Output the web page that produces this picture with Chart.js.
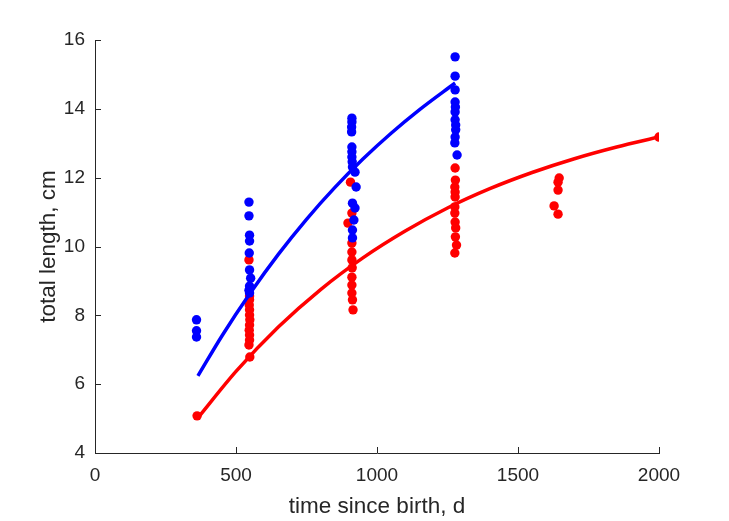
<!DOCTYPE html>
<html>
<head>
<meta charset="utf-8">
<script src="https://cdn.jsdelivr.net/npm/chart.js@4.4.0/dist/chart.umd.min.js"></script>
<style>
  html, body { margin: 0; padding: 0; background: #fff; }
  #growth { display: block; }
</style>
</head>
<body>
<canvas id="growth" width="729" height="521"></canvas>
<script>
// measured points, blue group
const blueX = [360, 360, 360,
  546, 546, 548, 548, 547, 548, 552, 548, 546, 548,
  911, 911, 910, 910, 911, 911, 911, 912, 913, 922, 926, 913, 922, 918, 913, 913,
  1277, 1277, 1277, 1277, 1278, 1277, 1277, 1279, 1279, 1277, 1276, 1284];
const blueY = [7.87, 7.55, 7.37,
  11.29, 10.89, 10.33, 10.16, 9.81, 9.32, 9.08, 8.85, 8.73, 8.65,
  13.73, 13.62, 13.47, 13.33, 12.89, 12.75, 12.60, 12.46, 12.31, 12.16, 11.73, 11.26, 11.12, 10.77, 10.48, 10.25,
  15.51, 14.95, 14.55, 14.20, 14.05, 13.91, 13.68, 13.53, 13.39, 13.18, 13.01, 12.66];

// measured points, red group
const redX = [362,
  546, 548, 548, 547, 548, 548, 549, 548, 547, 548, 548, 546, 549,
  906, 911, 897, 911, 911, 911, 912, 911, 911, 911, 913, 915,
  1277, 1278, 1276, 1277, 1277, 1276, 1276, 1277, 1279, 1278, 1282, 1276,
  1646, 1642, 1642, 1628, 1642,
  2000];
const redY = [5.08,
  9.61, 8.56, 8.45, 8.30, 8.16, 8.01, 7.87, 7.72, 7.57, 7.43, 7.28, 7.14, 6.79,
  11.87, 10.97, 10.68, 10.10, 9.84, 9.61, 9.38, 9.11, 8.88, 8.65, 8.45, 8.16,
  12.28, 11.93, 11.73, 11.58, 11.44, 11.15, 10.97, 10.71, 10.54, 10.28, 10.04, 9.81,
  11.99, 11.87, 11.64, 11.18, 10.94,
  13.18];

// fitted curves
const blueFitX = [365, 450, 550, 650, 750, 850, 950, 1050, 1150, 1277];
const blueFitY = [6.24, 7.40, 8.64, 9.77, 10.79, 11.71, 12.54, 13.29, 13.97, 14.75];
const redFitX = [365, 500, 650, 800, 950, 1100, 1250, 1400, 1550, 1700, 1850, 2000];
const redFitY = [5.02, 6.37, 7.66, 8.75, 9.67, 10.45, 11.12, 11.68, 12.15, 12.55, 12.89, 13.18];

const xTicks = [0, 500, 1000, 1500, 2000];
const yTicks = [4, 6, 8, 10, 12, 14, 16];

const BLUE = '#0000ff';
const RED = '#ff0000';
const INK = '#262626';
const FONT = 'Liberation Sans, Arial, Helvetica, sans-serif';

function pts(xs, ys) {
  return xs.map((x, i) => ({ x: x, y: ys[i] }));
}

// matlab style ticks pointing into the plot
const inwardTicks = {
  id: 'inwardTicks',
  afterDraw(chart) {
    const { ctx, chartArea } = chart;
    const xs = chart.scales.x, ys = chart.scales.y;
    ctx.save();
    ctx.strokeStyle = INK;
    ctx.lineWidth = 1;
    ctx.beginPath();
    xTicks.forEach(v => {
      const px = Math.round(xs.getPixelForValue(v)) + 0.5;
      ctx.moveTo(px, chartArea.bottom);
      ctx.lineTo(px, chartArea.bottom - 6);
    });
    yTicks.forEach(v => {
      const py = Math.round(ys.getPixelForValue(v)) + 0.5;
      ctx.moveTo(chartArea.left, py);
      ctx.lineTo(chartArea.left + 6, py);
    });
    ctx.stroke();
    ctx.restore();
  }
};

const ctx = document.getElementById('growth');

new Chart(ctx, {
  type: 'scatter',
  data: {
    datasets: [
      {
        label: 'blue fit',
        data: pts(blueFitX, blueFitY),
        showLine: true,
        borderColor: BLUE,
        borderWidth: 3.5,
        pointRadius: 0,
        cubicInterpolationMode: 'monotone'
      },
      {
        label: 'red fit',
        data: pts(redFitX, redFitY),
        showLine: true,
        borderColor: RED,
        borderWidth: 3.5,
        pointRadius: 0,
        cubicInterpolationMode: 'monotone'
      },
      {
        label: 'blue',
        data: pts(blueX, blueY),
        backgroundColor: BLUE,
        borderColor: BLUE,
        borderWidth: 0,
        pointRadius: 4.7
      },
      {
        label: 'red',
        data: pts(redX, redY),
        backgroundColor: RED,
        borderColor: RED,
        borderWidth: 0,
        pointRadius: 4.7
      }
    ]
  },
  options: {
    responsive: false,
    animation: false,
    layout: {
      padding: { top: 40, right: 70, bottom: 0, left: 0 }
    },
    plugins: {
      legend: { display: false },
      tooltip: { enabled: false }
    },
    scales: {
      x: {
        type: 'linear',
        min: 0,
        max: 2000,
        afterBuildTicks: s => { s.ticks = xTicks.map(v => ({ value: v })); },
        afterFit: s => { s.height = 68; },
        grid: { display: true, drawOnChartArea: false, drawTicks: false },
        border: { display: true, color: INK, width: 1 },
        ticks: {
          color: INK,
          font: { family: FONT, size: 19 },
          padding: 11,
          maxRotation: 0,
          callback: v => String(v)
        },
        title: {
          display: true,
          text: 'time since birth, d',
          color: INK,
          font: { family: FONT, size: 22.5 },
          padding: { top: 0, bottom: 0.5 }
        }
      },
      y: {
        type: 'linear',
        min: 4,
        max: 16,
        afterBuildTicks: s => { s.ticks = yTicks.map(v => ({ value: v })); },
        afterFit: s => { s.width = 95; },
        grid: { display: true, drawOnChartArea: false, drawTicks: false },
        border: { display: true, color: INK, width: 1 },
        ticks: {
          color: INK,
          font: { family: FONT, size: 19 },
          padding: 10,
          callback: v => String(v)
        },
        title: {
          display: true,
          text: 'total length, cm',
          color: INK,
          font: { family: FONT, size: 22.5 },
          padding: { top: 35, bottom: 0 }
        }
      }
    }
  },
  plugins: [inwardTicks]
});
</script>
</body>
</html>
